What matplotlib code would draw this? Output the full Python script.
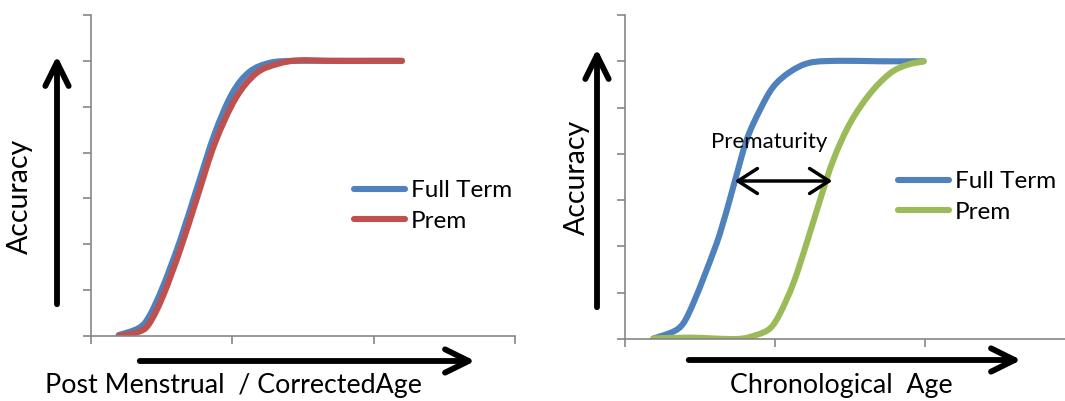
import matplotlib
matplotlib.use('Agg')
import matplotlib.pyplot as plt
from matplotlib.patches import FancyArrowPatch, PathPatch
from matplotlib.path import Path
from matplotlib.lines import Line2D

plt.rcParams['font.family'] = ['Lato', 'DejaVu Sans']

# left panel: corrected age
pma_x_full = [0.196, 0.336, 0.41, 0.508, 0.631, 0.753, 0.876, 0.999, 1.121, 1.269, 1.44, 1.70, 2.0, 2.20]
pma_y_full = [0.02, 0.17, 0.42, 1.07, 2.09, 3.26, 4.42, 5.29, 5.76, 5.96, 6.0, 6.0, 6.0, 6.0]
pma_x_prem = [0.196, 0.336, 0.41, 0.508, 0.631, 0.753, 0.876, 1.023, 1.17, 1.318, 1.465, 1.70, 2.0, 2.20]
pma_y_prem = [0.0, 0.09, 0.26, 0.86, 1.88, 3.04, 4.20, 5.18, 5.73, 5.93, 6.01, 6.0, 6.0, 6.0]

# right panel: chronological age
chr_x_full = [0.189, 0.322, 0.389, 0.455, 0.544, 0.633, 0.722, 0.811, 0.90, 0.989, 1.10, 1.233, 1.433, 1.70, 1.989]
chr_y_full = [0.01, 0.16, 0.34, 0.77, 1.49, 2.28, 3.29, 4.30, 4.95, 5.45, 5.77, 5.97, 6.01, 6.0, 6.0]
chr_x_prem = [0.189, 0.433, 0.744, 0.878, 0.967, 1.033, 1.122, 1.211, 1.30, 1.389, 1.50, 1.633, 1.767, 1.878, 1.993]
chr_y_prem = [0.01, 0.03, 0.0, 0.09, 0.23, 0.55, 1.20, 2.07, 3.0, 3.87, 4.66, 5.30, 5.74, 5.92, 6.0]

BLUE = '#4F81BD'
RED = '#C0504D'
GREEN = '#9BBB59'
GREY = '#868686'

W, H = 1065, 401
fig = plt.figure(figsize=(W / 100, H / 100), dpi=100)
lw = 4.4


def make_axes(left, bottom, right, top):
    ax = fig.add_axes([left / W, 1 - bottom / H, (right - left) / W, (bottom - top) / H])
    ax.set_xlim(0, 3)
    ax.set_ylim(0, 7)
    ax.set_xticks([0, 1, 2, 3])
    ax.set_yticks(range(8))
    ax.set_xticklabels([])
    ax.set_yticklabels([])
    for s in ['top', 'right']:
        ax.spines[s].set_visible(False)
    for s in ['left', 'bottom']:
        ax.spines[s].set_color(GREY)
        ax.spines[s].set_linewidth(1.2)
    ax.tick_params(direction='out', length=6, width=1.2, color=GREY)
    return ax


def smooth_line(ax, xs, ys, color):
    # excel-style smoothed line: bezier segments through the points
    n = len(xs)
    verts = [(xs[0], ys[0])]
    codes = [Path.MOVETO]
    for i in range(n - 1):
        x0, y0 = xs[max(i - 1, 0)], ys[max(i - 1, 0)]
        x1, y1 = xs[i], ys[i]
        x2, y2 = xs[i + 1], ys[i + 1]
        x3, y3 = xs[min(i + 2, n - 1)], ys[min(i + 2, n - 1)]
        c1 = (x1 + (x2 - x0) / 6, y1 + (y2 - y0) / 6)
        c2 = (x2 - (x3 - x1) / 6, y2 - (y3 - y1) / 6)
        verts += [c1, c2, (x2, y2)]
        codes += [Path.CURVE4] * 3
    p = PathPatch(Path(verts, codes), fill=False, edgecolor=color, lw=lw,
                  capstyle='round', joinstyle='round')
    ax.add_patch(p)
    return Line2D([], [], color=color, lw=lw, solid_capstyle='round')


def big_arrow(x0, y0, x1, y1):
    a = FancyArrowPatch((x0, H - y0), (x1, H - y1), transform=None,
                        arrowstyle='->,head_length=0.85,head_width=0.42',
                        lw=4.2, color='black', capstyle='round', joinstyle='round',
                        mutation_scale=20)
    fig.add_artist(a)


leg_kw = dict(loc='upper left', frameon=False, fontsize=17.5, handlelength=2.1,
              handletextpad=0.25, labelspacing=0.4, borderaxespad=0, borderpad=0)

ax1 = make_axes(91, 336, 515, 15)
h1 = smooth_line(ax1, pma_x_full, pma_y_full, BLUE)
h2 = smooth_line(ax1, pma_x_prem, pma_y_prem, RED)
ax1.legend([h1, h2], ['Full Term', 'Prem'],
           bbox_to_anchor=((354 - 91) / 424, (336 - 180) / 321), **leg_kw)

ax2 = make_axes(625, 339, 1075, 15)
h3 = smooth_line(ax2, chr_x_full, chr_y_full, BLUE)
h4 = smooth_line(ax2, chr_x_prem, chr_y_prem, GREEN)
ax2.legend([h3, h4], ['Full Term', 'Prem'],
           bbox_to_anchor=((898 - 625) / 450, (339 - 171) / 324), **leg_kw)

# prematurity gap
gap = FancyArrowPatch((732, H - 181), (835, H - 181), transform=None,
                      arrowstyle='<->,head_length=0.7,head_width=0.45',
                      lw=2.5, color='black', capstyle='round', joinstyle='round',
                      mutation_scale=20)
fig.add_artist(gap)
fig.text(769 / W, 1 - 142 / H, 'Prematurity', fontsize=16, ha='center', va='center')

# big axis arrows
big_arrow(57, 307, 57, 53)
big_arrow(137, 361, 478, 361)
big_arrow(597, 310, 597, 46)
big_arrow(686, 360, 1024, 360)

fig.text(20 / W, 1 - 196 / H, 'Accuracy', fontsize=20.5, rotation=90, ha='center', va='center')
fig.text(577 / W, 1 - 177 / H, 'Accuracy', fontsize=20.5, rotation=90, ha='center', va='center')
fig.text(233 / W, 1 - 386 / H, 'Post Menstrual  / CorrectedAge', fontsize=19.3, ha='center', va='center')
fig.text(841 / W, 1 - 386 / H, 'Chronological  Age', fontsize=19.3, ha='center', va='center')

fig.savefig('out.png', dpi=100)
